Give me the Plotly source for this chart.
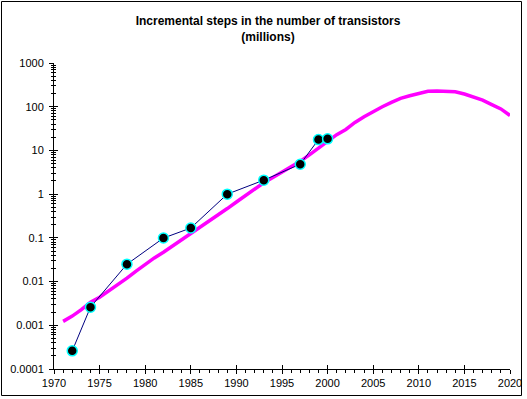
import plotly.graph_objects as go

# Observed incremental steps (millions)
step_years = [1972, 1974, 1978, 1982, 1985, 1989, 1993, 1997, 1999, 2000]
step_values = [0.00026, 0.0026, 0.025, 0.099, 0.168, 1.0, 2.09, 4.84, 17.7, 18.4]

# Trend curve (millions)
trend_years = list(range(1971, 2021))
trend_values = [0.00123, 0.00162, 0.00229, 0.00339, 0.00437, 0.00603, 0.00851, 0.0120,
                0.0174, 0.0251, 0.0347, 0.0468, 0.0646, 0.0933, 0.129, 0.178, 0.245,
                0.339, 0.468, 0.661, 0.933, 1.32, 1.82, 2.40, 3.16, 4.17, 5.62, 7.94,
                11.2, 16.6, 22.9, 30.2, 43.6, 58.9, 77.6, 100, 126, 155, 178, 204,
                226, 229, 229, 219, 195, 166, 141, 112, 89.1, 63.1]

y_tick_vals = [0.0001, 0.001, 0.01, 0.1, 1, 10, 100, 1000]
y_tick_text = ["0.0001", "0.001", "0.01", "0.1", "1", "10", "100", "1000"]
y_minor_vals = [m * 10 ** e for e in range(-4, 3) for m in range(2, 10)]
x_major = list(range(1970, 2021, 5))
x_minor = [y for y in range(1970, 2021) if y % 5]

FONT = "Liberation Sans, Arial, sans-serif"

fig = go.Figure()
fig.add_trace(go.Scatter(
    x=trend_years, y=trend_values, mode="lines",
    line=dict(color="#FF00FF", width=3.5), showlegend=False, hoverinfo="skip",
))
fig.add_trace(go.Scatter(
    x=step_years, y=step_values, mode="lines+markers",
    line=dict(color="#000080", width=1),
    marker=dict(symbol="circle", size=10, color="black", line=dict(color="#00FFFF", width=1.5)),
    xaxis="x2", yaxis="y2", showlegend=False,
))

xr = [1970, 2020]
yr = [-4, 3]
common_x = dict(range=xr, showgrid=False, zeroline=False, tickmode="array", tickvals=x_major,
                tickcolor="black", tickwidth=1, ticklen=4, automargin=False)
common_y = dict(type="log", range=yr, showgrid=False, zeroline=False, tickmode="array",
                tickvals=y_tick_vals, tickcolor="black", tickwidth=1, ticklen=4,
                automargin=False)

fig.update_layout(
    template="none",
    width=527, height=399,
    margin=dict(l=54, r=17, t=63, b=30, autoexpand=False),
    paper_bgcolor="white", plot_bgcolor="white",
    font=dict(family=FONT, size=11, color="black"),
    title=dict(
        text="<b>Incremental steps in the number of transistors<br>(millions)</b>",
        x=268 / 527, xanchor="center", xref="container",
        y=1 - 25 / 399, yanchor="top",
        font=dict(family=FONT, size=12, color="black"),
    ),
    xaxis=dict(**common_x, ticks="outside", showline=True, linecolor="black", linewidth=1,
               ticktext=[str(v) for v in x_major], tickfont=dict(size=11),
               minor=dict(ticks="outside", ticklen=3, tickcolor="black", tickwidth=1,
                          tickmode="array", tickvals=x_minor, showgrid=False)),
    yaxis=dict(**common_y, ticks="outside", showline=True, linecolor="black", linewidth=1,
               ticktext=y_tick_text, tickfont=dict(size=11), ticklabelstandoff=3,
               minor=dict(ticks="outside", ticklen=2, tickcolor="black", tickwidth=1,
                          tickmode="array", tickvals=y_minor_vals, showgrid=False)),
    xaxis2=dict(**common_x, ticks="inside", showline=False, showticklabels=False,
                overlaying="x", anchor="y2"),
    yaxis2=dict(**common_y, ticks="inside", showline=False, showticklabels=False,
                overlaying="y", anchor="x2",
                minor=dict(ticks="inside", ticklen=2, tickcolor="black", tickwidth=1,
                           tickmode="array", tickvals=y_minor_vals, showgrid=False)),
    shapes=[dict(type="rect", xref="paper", yref="paper",
                 x0=(1.5 - 54) / 456, x1=(521.5 - 54) / 456,
                 y0=(369 - 395.5) / 306, y1=(369 - 1.5) / 306,
                 line=dict(color="black", width=1), fillcolor="rgba(0,0,0,0)", layer="above")],
)

fig.write_html("out.html", config={"displayModeBar": False},
               post_script="document.body.style.margin='0';document.body.style.padding='0';")
